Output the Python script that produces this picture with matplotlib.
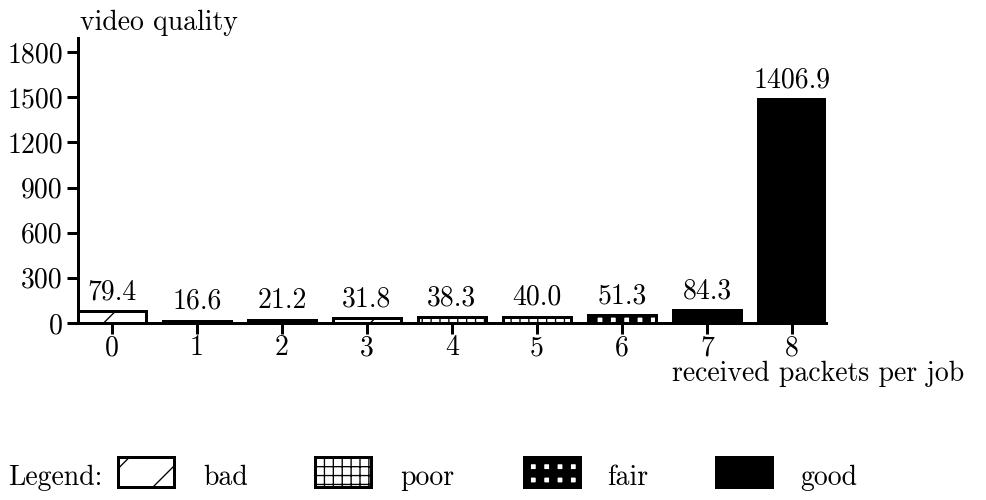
from matplotlib import pyplot as plt
from matplotlib.patches import Rectangle

plt.rcParams["font.family"] = ["cmr10", "DejaVu Serif"]
plt.rcParams["axes.formatter.use_mathtext"] = True
plt.rcParams["hatch.linewidth"] = 0.6

packets = [0, 1, 2, 3, 4, 5, 6, 7, 8]
quality = [79.4, 16.6, 21.2, 31.8, 38.3, 40.0, 51.3, 84.3, 1406.9]
# bar heights as drawn in the picture (last bar is taller than its label)
bar_heights = [79.4, 16.6, 21.2, 31.8, 38.3, 40.0, 51.3, 84.3, 1485.0]
rating = ["bad", "bad", "bad", "bad", "poor", "poor", "fair", "good", "good"]
y_ticks = [0, 300, 600, 900, 1200, 1500, 1800]
legend_names = ["bad", "poor", "fair", "good"]

DPI = 160
W, H = 986, 500
PX = 72 / DPI  # one pixel in points
FS = 12.5

style = {
    "bad": dict(facecolor="white", hatch="/", hlw=0.6),
    "poor": dict(facecolor="white", hatch="+++", hlw=0.6),
    "fair": dict(facecolor="white", hatch="++", hlw=8.5 * PX),
    "good": dict(facecolor="black", hatch=None, hlw=0.6),
}


def apply_style(patch, name):
    s = style[name]
    patch.set_facecolor(s["facecolor"])
    patch.set_edgecolor("black")
    if s["hatch"]:
        patch.set_hatch(s["hatch"])
        if hasattr(patch, "set_hatch_linewidth"):
            patch.set_hatch_linewidth(s["hlw"])


fig = plt.figure(figsize=(W / DPI, H / DPI), dpi=DPI)
ax = fig.add_axes([78 / W, 1 - 323 / H, (826 - 78) / W, (323 - 38) / H])

bars = ax.bar(packets, bar_heights, width=0.8, linewidth=3 * PX, edgecolor="black")
for b, r in zip(bars, rating):
    apply_style(b, r)

for x, h, q in zip(packets, bar_heights, quality):
    ax.annotate(
        f"{q:.1f}",
        (x, h),
        xytext=(0, 12 * PX),
        textcoords="offset points",
        ha="center",
        va="baseline",
        fontsize=FS,
    )

ax.set_xlim(-0.4, 8.4)
ax.set_ylim(0, 1893)
ax.set_xticks(packets)
ax.set_xticklabels([str(p) for p in packets])
ax.set_yticks(y_ticks)
ax.set_yticklabels([str(t) for t in y_ticks])
for side in ["top", "right"]:
    ax.spines[side].set_visible(False)
for side in ["left", "bottom"]:
    ax.spines[side].set_linewidth(3 * PX)
ax.tick_params(direction="out", length=11 * PX, width=3 * PX, labelsize=FS)
ax.tick_params(axis="x", pad=0.5)
ax.tick_params(axis="y", pad=4 * PX)

fig.text(80 / W, 1 - 30 / H, "video quality", fontsize=FS, va="baseline")
fig.text(672 / W, 1 - 381 / H, "received packets per job", fontsize=FS, va="baseline")

# legend row at the bottom
fig.text(8 / W, 1 - 485 / H, "Legend:", fontsize=FS, va="baseline")
box_left = [118, 315, 524, 716]
text_left = [203, 400, 607, 800]
for name, bx, tx in zip(legend_names, box_left, text_left):
    rect = Rectangle(
        (bx / W, 1 - 487 / H),
        56 / W,
        30 / H,
        transform=fig.transFigure,
        linewidth=3 * PX,
    )
    apply_style(rect, name)
    fig.patches.append(rect)
    fig.text(tx / W, 1 - 485 / H, name, fontsize=FS, va="baseline")

plt.savefig("out.png", dpi=DPI)
